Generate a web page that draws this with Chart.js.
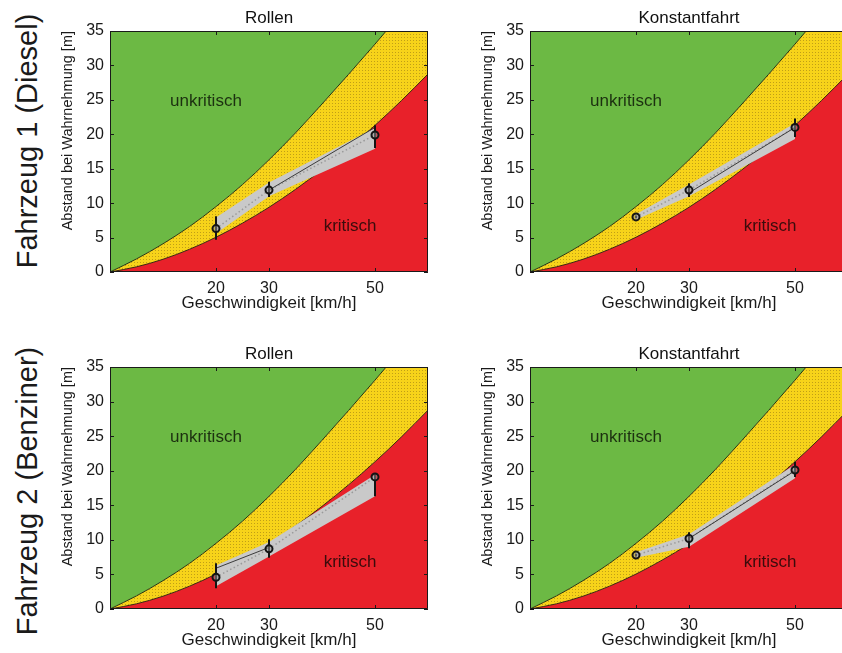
<!DOCTYPE html>
<html>
<head>
<meta charset="utf-8">
<script src="https://cdn.jsdelivr.net/npm/chart.js@4"></script>
<style>
  html, body { margin: 0; padding: 0; background: #fff; }
  #wrap { position: relative; width: 842px; height: 653px; overflow: hidden; }
  canvas { position: absolute; }
  .row {
    position: absolute;
    font-family: "Liberation Sans", Arial, sans-serif;
    font-size: 29px;
    color: #1a1a1a;
    white-space: nowrap;
    transform: translate(-50%, -50%) rotate(-90deg);
  }
</style>
</head>
<body>
<div id="wrap">
  <div class="row" style="left:27px;top:141px">Fahrzeug 1 (Diesel)</div>
  <div class="row" style="left:27px;top:491px">Fahrzeug 2 (Benziner)</div>
  <canvas id="c0" width="385" height="320" style="left:55px;top:0"></canvas>
  <canvas id="c1" width="385" height="320" style="left:475px;top:0"></canvas>
  <canvas id="c2" width="385" height="321" style="left:55px;top:336px"></canvas>
  <canvas id="c3" width="385" height="321" style="left:475px;top:336px"></canvas>
</div>
<script>
// boundary curves between the zones
const speeds = [0, 5, 10, 15, 20, 25, 30, 35, 40, 45, 50, 55, 60];
const upperBound = [0, 1.9, 4.1, 6.6, 9.5, 12.7, 16.3, 20.2, 24.4, 28.7, 33.1, 37.6, 42.2];
const lowerBound = [0, 0.75, 1.85, 3.3, 5.05, 7.1, 9.4, 12.0, 14.85, 17.95, 21.3, 24.9, 28.75];

// measured speeds and axis ticks
const testSpeeds = [20, 30, 50];
const speedTicks = [20, 30, 50];

// Fahrzeug 1 (Diesel), Rollen
const dieselRollMean = [6.3, 11.9, 19.9];
const dieselRollLow = [4.7, 10.9, 18.0];
const dieselRollHigh = [8.1, 13.1, 21.3];
const dieselRollBandLow = [5.6, 11.0, 17.9];
const dieselRollBandHigh = [7.9, 13.0, 20.9];
const dieselRollFitX = [30, 50];
const dieselRollFit = [11.9, 21.0];

// Fahrzeug 1 (Diesel), Konstantfahrt
const dieselKonstMean = [8.0, 11.9, 21.0];
const dieselKonstLow = [7.8, 10.9, 19.6];
const dieselKonstHigh = [8.2, 12.9, 22.3];
const dieselKonstBandLow = [7.6, 11.0, 19.3];
const dieselKonstBandHigh = [8.4, 12.7, 21.6];
const dieselKonstFitX = [30, 50];
const dieselKonstFit = [11.5, 21.0];

// Fahrzeug 2 (Benziner), Rollen
const benzinRollMean = [4.6, 8.7, 19.1];
const benzinRollLow = [3.0, 7.4, 16.3];
const benzinRollHigh = [6.6, 10.1, 19.6];
const benzinRollBandLow = [3.3, 7.6, 16.3];
const benzinRollBandHigh = [6.3, 9.7, 19.4];
const benzinRollFitX = [20, 30];
const benzinRollFit = [5.9, 8.9];

// Fahrzeug 2 (Benziner), Konstantfahrt
const benzinKonstMean = [7.8, 10.2, 20.1];
const benzinKonstLow = [7.6, 8.8, 19.1];
const benzinKonstHigh = [8.0, 11.1, 21.3];
const benzinKonstBandLow = [7.4, 9.0, 18.9];
const benzinKonstBandHigh = [8.2, 10.8, 20.9];
const benzinKonstFitX = [30, 50];
const benzinKonstFit = [10.2, 20.0];

const family = '"Liberation Sans", Arial, Helvetica, sans-serif';
const GREEN = '#6cb944';
const RED = '#e8212a';

// dotted yellow fill
const yellowFill = (() => {
    const c = document.createElement('canvas');
    c.width = 3; c.height = 3;
    const g = c.getContext('2d');
    g.fillStyle = '#f7d31a';
    g.fillRect(0, 0, 3, 3);
    g.fillStyle = '#c09e16';
    g.fillRect(1, 1, 1, 1);
    return g.createPattern(c, 'repeat');
})();

const pts = (xs, ys) => xs.map((x, i) => ({ x: x, y: ys[i] }));

// frame, inner ticks and zone labels
const framePlugin = {
    id: 'frame',
    afterDatasetsDraw(chart) {
        const { ctx, chartArea: a, scales: { x, y } } = chart;
        ctx.save();
        ctx.font = '17px ' + family;
        ctx.textAlign = 'center';
        ctx.textBaseline = 'middle';
        ctx.fillStyle = '#1c3010';
        ctx.fillText('unkritisch', x.getPixelForValue(18.1), y.getPixelForValue(24.8));
        ctx.fillStyle = '#3a0c0c';
        ctx.fillText('kritisch', x.getPixelForValue(45.3), y.getPixelForValue(6.7));

        ctx.strokeStyle = '#1a1a1a';
        ctx.lineWidth = 1;
        ctx.beginPath();
        ctx.rect(a.left + 0.5, a.top + 0.5, a.right - a.left - 1, a.bottom - a.top - 1);
        x.ticks.forEach(t => {
            const px = Math.round(x.getPixelForValue(t.value)) + 0.5;
            ctx.moveTo(px, a.bottom); ctx.lineTo(px, a.bottom - 4);
            ctx.moveTo(px, a.top); ctx.lineTo(px, a.top + 4);
        });
        y.ticks.forEach(t => {
            const py = Math.round(y.getPixelForValue(t.value)) + 0.5;
            ctx.moveTo(a.left, py); ctx.lineTo(a.left + 4, py);
            ctx.moveTo(a.right, py); ctx.lineTo(a.right - 4, py);
        });
        ctx.stroke();
        ctx.restore();
    }
};

const makeChart = (id, title, p) => {
    const datasets = [
        { data: pts(speeds, upperBound), fill: 'end', backgroundColor: GREEN, borderWidth: 0 },
        { data: pts(speeds, lowerBound), fill: 0, backgroundColor: yellowFill, borderWidth: 0 },
        { data: pts(speeds, lowerBound), fill: 'start', backgroundColor: RED, borderWidth: 0 },
        { data: pts(speeds, upperBound), borderColor: '#26340f', borderWidth: 1 },
        { data: pts(speeds, lowerBound), borderColor: '#3a2a0a', borderWidth: 1 },
        { data: pts(testSpeeds, p.bandLow), borderWidth: 0 },
        { data: pts(testSpeeds, p.bandHigh), fill: 5, backgroundColor: '#c9c9c9', borderWidth: 0 },
        { data: pts(testSpeeds, p.mean), borderColor: '#9a9a9a', borderWidth: 1.5, borderDash: [1.5, 2.5] },
        { data: pts(p.fitX, p.fit), borderColor: '#3c3c3c', borderWidth: 1 }
    ];
    // error bars
    testSpeeds.forEach((s, i) => {
        datasets.push({ data: [{ x: s, y: p.low[i] }, { x: s, y: p.high[i] }], borderColor: '#141414', borderWidth: 2 });
    });
    datasets.push({
        data: pts(testSpeeds, p.mean), showLine: false,
        pointRadius: 3.5, pointBorderWidth: 2, pointBorderColor: '#141414',
        pointBackgroundColor: 'rgba(150,150,150,0.5)'
    });
    // first dataset is drawn first
    datasets.forEach((d, i) => {
        d.order = -i;
        if (d.fill === undefined) d.fill = false;
        if (d.pointRadius === undefined) d.pointRadius = 0;
    });
    datasets.slice(0, 5).forEach(d => { d.cubicInterpolationMode = 'monotone'; });

    new Chart(document.getElementById(id), {
        type: 'line',
        data: { datasets: datasets },
        plugins: [framePlugin],
        options: {
            responsive: false,
            animation: false,
            events: [],
            layout: { padding: { left: 0, right: 12, top: 0, bottom: 0 } },
            plugins: {
                legend: { display: false },
                tooltip: { enabled: false },
                title: {
                    display: true, text: title, fullSize: false, color: '#111',
                    font: { family: family, size: 17, weight: 'normal' },
                    padding: { top: 8, bottom: 2.6 }
                }
            },
            scales: {
                x: {
                    type: 'linear', min: 0, max: 60,
                    afterBuildTicks: s => { s.ticks = speedTicks.map(v => ({ value: v })); },
                    afterFit: s => { s.height = 48; },
                    grid: { display: false, drawTicks: false },
                    border: { display: false },
                    ticks: { color: '#1a1a1a', font: { family: family, size: 16 }, padding: 7, maxRotation: 0, autoSkip: false },
                    title: {
                        display: true, text: 'Geschwindigkeit [km/h]', color: '#1a1a1a',
                        font: { family: family, size: 17 }, padding: { top: 0, bottom: 6 }
                    }
                },
                y: {
                    min: 0, max: 35,
                    afterFit: s => { s.width = 55; },
                    grid: { display: false, drawTicks: false },
                    border: { display: false },
                    ticks: { stepSize: 5, color: '#1a1a1a', font: { family: family, size: 16 }, padding: 6 },
                    title: {
                        display: true, text: 'Abstand bei Wahrnehmung [m]', align: 'end', color: '#1a1a1a',
                        font: { family: family, size: 14.5 }, padding: { top: 4, bottom: 0 }
                    }
                }
            }
        }
    });
};

makeChart('c0', 'Rollen', {
    mean: dieselRollMean, low: dieselRollLow, high: dieselRollHigh,
    bandLow: dieselRollBandLow, bandHigh: dieselRollBandHigh, fitX: dieselRollFitX, fit: dieselRollFit
});
makeChart('c1', 'Konstantfahrt', {
    mean: dieselKonstMean, low: dieselKonstLow, high: dieselKonstHigh,
    bandLow: dieselKonstBandLow, bandHigh: dieselKonstBandHigh, fitX: dieselKonstFitX, fit: dieselKonstFit
});
makeChart('c2', 'Rollen', {
    mean: benzinRollMean, low: benzinRollLow, high: benzinRollHigh,
    bandLow: benzinRollBandLow, bandHigh: benzinRollBandHigh, fitX: benzinRollFitX, fit: benzinRollFit
});
makeChart('c3', 'Konstantfahrt', {
    mean: benzinKonstMean, low: benzinKonstLow, high: benzinKonstHigh,
    bandLow: benzinKonstBandLow, bandHigh: benzinKonstBandHigh, fitX: benzinKonstFitX, fit: benzinKonstFit
});
</script>
</body>
</html>
